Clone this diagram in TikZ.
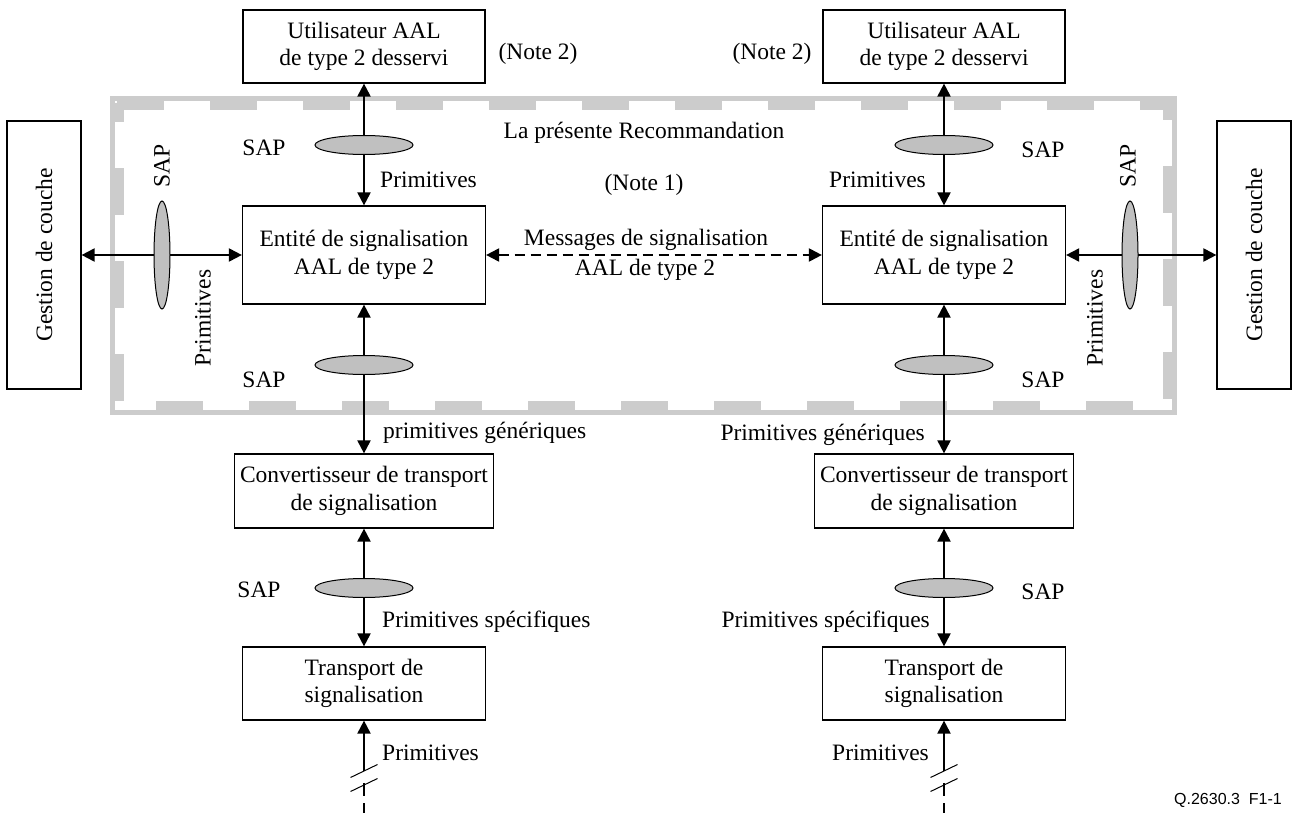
\documentclass[tikz,border=0pt]{standalone}
\usepackage{fontspec}
\setmainfont{Liberation Serif}
\newfontfamily\figsans{Liberation Sans}
\usetikzlibrary{arrows.meta,shapes.geometric}
\definecolor{framegrey}{RGB}{204,204,204}
\definecolor{sapgrey}{RGB}{192,192,192}
\begin{document}
\begin{tikzpicture}[x=1pt,y=-1pt,
  font=\fontsize{23.5}{27.5}\selectfont,
  blk/.style={draw, line width=1.2pt, align=center, inner sep=0pt},
  link/.style={line width=2pt, {Triangle[length=13pt,width=13pt]}-{Triangle[length=13pt,width=13pt]}},
  uplink/.style={line width=2pt, -{Triangle[length=13pt,width=13pt]}},
  sapv/.style={draw, line width=1pt, fill=sapgrey, ellipse, inner sep=0pt,
    minimum width=98pt, minimum height=19pt},
  saph/.style={draw, line width=1pt, fill=sapgrey, ellipse, inner sep=0pt,
    minimum width=16pt, minimum height=108pt},
  lbl/.style={inner sep=0pt},
  cut/.style={line width=1pt}
]
\useasboundingbox (0,0) rectangle (1292,813);

% boundary of the Recommendation
\draw[framegrey, line width=5pt] (112.5,98.5) rectangle (1174.5,412.5);
\draw[framegrey, line width=14pt, dash pattern=on 47pt off 46pt]
  (117,103) -- (1170,103) -- (1170,408) -- (117,408) -- cycle;

% blocks, left side
\node[blk, minimum width=242pt, minimum height=73pt] (userL) at (364,46.5) {Utilisateur AAL\\de type 2 desservi};
\node[blk, minimum width=243pt, minimum height=98pt] (entL) at (364,255) {Entité de signalisation\\AAL de type 2};
\node[blk, minimum width=259pt, minimum height=74pt] (convL) at (364,491) {Convertisseur de transport\\de signalisation};
\node[blk, minimum width=243pt, minimum height=73pt] (transL) at (364,683.5) {Transport de\\signalisation};
\node[blk, minimum width=74pt, minimum height=268pt] (gestL) at (44,255) {};
\node[rotate=90, lbl] (gestLt) at (gestL.center) {Gestion de couche};

% blocks, right side
\node[blk, minimum width=242pt, minimum height=73pt] (userR) at (944,46.5) {Utilisateur AAL\\de type 2 desservi};
\node[blk, minimum width=243pt, minimum height=98pt] (entR) at (944,255) {Entité de signalisation\\AAL de type 2};
\node[blk, minimum width=259pt, minimum height=74pt] (convR) at (944,491) {Convertisseur de transport\\de signalisation};
\node[blk, minimum width=243pt, minimum height=73pt] (transR) at (944,683.5) {Transport de\\signalisation};
\node[blk, minimum width=74pt, minimum height=268pt] (gestR) at (1254,255) {};
\node[rotate=90, lbl] (gestRt) at (gestR.center) {Gestion de couche};

% vertical links
\draw[link] (userL.south) -- (entL.north);
\draw[link] (entL.south) -- (convL.north);
\draw[link] (convL.south) -- (transL.north);
\draw[link] (userR.south) -- (entR.north);
\draw[link] (entR.south) -- (convR.north);
\draw[link] (convR.south) -- (transR.north);

% horizontal links
\draw[link] (gestL.east) -- (entL.west);
\draw[link] (entR.east) -- (gestR.west);
\draw[link, dash pattern=on 10pt off 6pt] (entL.east) -- (entR.west);

% lower primitives with break marks
\coordinate (cutL1) at (364,771);
\coordinate (cutL2) at (364,785);
\coordinate (endL) at (364,813);
\coordinate (cutR1) at (944,771);
\coordinate (cutR2) at (944,785);
\coordinate (endR) at (944,813);
\draw[uplink] (cutL1) -- (transL.south);
\draw[uplink] (cutR1) -- (transR.south);
\draw[cut] ([shift={(-13.5,6.5)}]cutL1) -- ([shift={(13.5,-6.5)}]cutL1);
\draw[cut] ([shift={(-13.5,6.5)}]cutL2) -- ([shift={(13.5,-6.5)}]cutL2);
\draw[cut] ([shift={(-13.5,6.5)}]cutR1) -- ([shift={(13.5,-6.5)}]cutR1);
\draw[cut] ([shift={(-13.5,6.5)}]cutR2) -- ([shift={(13.5,-6.5)}]cutR2);
\draw[line width=2pt, dash pattern=on 13pt off 7pt] ([yshift=2pt]cutL2) -- (endL);
\draw[line width=2pt, dash pattern=on 13pt off 7pt] ([yshift=2pt]cutR2) -- (endR);

% service access points
\node[sapv] (sapL1) at (364,145) {};
\node[sapv] (sapL2) at (364,365) {};
\node[sapv] (sapL3) at (364,588) {};
\node[sapv] (sapR1) at (944,145) {};
\node[sapv] (sapR2) at (944,365) {};
\node[sapv] (sapR3) at (944,588) {};
\node[saph] (sapLg) at (162,255) {};
\node[saph] (sapRg) at (1130,255) {};

% labels, left
\node[lbl] (tSapL1) at (264,148) {SAP};
\node[lbl, anchor=west] (tPrimL1) at (380,180) {Primitives};
\node[lbl] (tSapL2) at (264,380) {SAP};
\node[lbl, anchor=west] (tGenL) at (383,433) {primitives génériques};
\node[lbl] (tSapL3) at (259,590) {SAP};
\node[lbl, anchor=west] (tSpecL) at (382,622) {Primitives spécifiques};
\node[lbl, anchor=west] (tPrimL4) at (382,753) {Primitives};
\node[lbl, rotate=90] (tSapLg) at (162,166) {SAP};
\node[lbl, rotate=90] (tPrimLg) at (203,318) {Primitives};
\node[lbl] (noteL) at (538,54) {(Note 2)};

% labels, right
\node[lbl] (tSapR1) at (1043,150) {SAP};
\node[lbl, anchor=east] (tPrimR1) at (926,180) {Primitives};
\node[lbl] (tSapR2) at (1043,380) {SAP};
\node[lbl, anchor=east] (tGenR) at (925,435) {Primitives génériques};
\node[lbl] (tSapR3) at (1043,592) {SAP};
\node[lbl, anchor=east] (tSpecR) at (930,622) {Primitives spécifiques};
\node[lbl, anchor=east] (tPrimR4) at (929,753) {Primitives};
\node[lbl, rotate=90] (tSapRg) at (1128,166) {SAP};
\node[lbl, rotate=90] (tPrimRg) at (1095,318) {Primitives};
\node[lbl] (noteR) at (772,54) {(Note 2)};

% labels, centre
\node[lbl] (tReco) at (644,133) {La présente Recommandation};
\node[lbl] (note1) at (644,185) {(Note 1)};
\node[lbl] (tMsg1) at (646,240) {Messages de signalisation};
\node[lbl] (tMsg2) at (645,270) {AAL de type 2};

% figure reference
\node[lbl, anchor=east, font=\figsans\fontsize{16}{18}\selectfont] (figref) at (1282,800) {Q.2630.3\ \ F1-1};
\end{tikzpicture}
\end{document}
